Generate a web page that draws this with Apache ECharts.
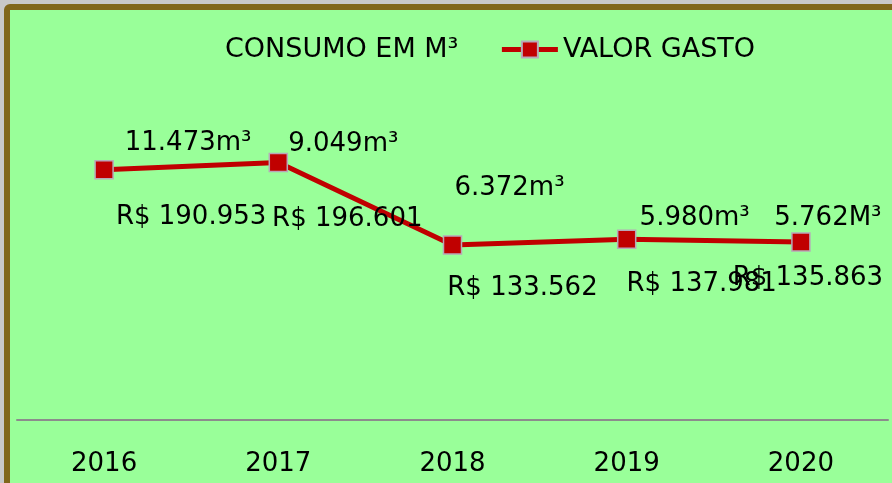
<!DOCTYPE html>
<html>
<head>
<meta charset="utf-8">
<script src="https://cdn.jsdelivr.net/npm/echarts@6/dist/echarts.min.js"></script>
<style>
    html, body { margin: 0; padding: 0; width: 892px; height: 483px; overflow: hidden; background: #c8c8c8; }
    .frame {
        position: absolute; left: 4px; top: 4px; width: 900px; height: 500px;
        border: 6px solid #80661a; border-radius: 6px; background: #99ff99;
    }
    #chart { position: absolute; left: 0; top: 0; width: 892px; height: 483px; }
</style>
</head>
<body>
<div class="frame"></div>
<div id="chart"></div>
<script>
// anos
const categorias = ['2016', '2017', '2018', '2019', '2020'];
// valor gasto em R$
const valorGasto = [190953, 196601, 133562, 137981, 135863];
// consumo em m³
const consumo = [11473, 9049, 6372, 5980, 5762];
const consumoTexto = ['11.473m³', '9.049m³', '6.372m³', '5.980m³', '5.762M³'];

// deslocamento manual dos rótulos (como no gráfico original)
const offsetValor = [[87, 47], [69, 57], [70, 43], [75, 45], [7, 36]];
const offsetConsumo = [[84, -26], [65, -78], [57, -93], [68, -71], [27, -76]];

const fmtReal = v => 'R$ ' + v.toLocaleString('pt-BR');

const chart = echarts.init(document.getElementById('chart'));

const option = {
    backgroundColor: 'transparent',
    textStyle: { fontFamily: 'DejaVu Sans' },
    legend: {
        left: 158,
        top: 31,
        itemGap: 41,
        itemWidth: 56,
        itemHeight: 20,
        textStyle: { fontSize: 27, color: '#000' },
        data: [
            { name: 'CONSUMO EM M³', itemStyle: { opacity: 0 }, lineStyle: { opacity: 0 } },
            { name: 'VALOR GASTO', lineStyle: { width: 5, color: '#c00000' } }
        ]
    },
    grid: { left: 17, right: 4, top: 92.5, bottom: 63 },
    xAxis: {
        type: 'category',
        data: categorias,
        axisLine: { lineStyle: { color: '#8c8c8c', width: 2 } },
        axisTick: { show: false },
        axisLabel: { fontSize: 26, color: '#000', margin: 31 }
    },
    yAxis: [
        { type: 'value', min: 0, max: 250000, show: false, splitLine: { show: false } },
        { type: 'value', min: 0, max: 15000, show: false, splitLine: { show: false } }
    ],
    series: [
        {
            name: 'CONSUMO EM M³',
            type: 'line',
            yAxisIndex: 1,
            symbol: 'circle',
            symbolSize: 1,
            showSymbol: true,
            lineStyle: { opacity: 0 },
            itemStyle: { color: 'rgba(0,0,0,0)', borderWidth: 0 },
            data: consumo.map((v, i) => ({
                value: v,
                label: {
                    show: true,
                    position: 'inside',
                    offset: offsetConsumo[i],
                    formatter: consumoTexto[i],
                    fontSize: 26,
                    color: '#000'
                }
            }))
        },
        {
            name: 'VALOR GASTO',
            type: 'line',
            symbol: 'rect',
            symbolSize: 18,
            lineStyle: { color: '#c00000', width: 5 },
            itemStyle: { color: '#c00000', borderColor: '#b8a8b8', borderWidth: 1.5 },
            data: valorGasto.map((v, i) => ({
                value: v,
                label: {
                    show: true,
                    position: 'inside',
                    offset: offsetValor[i],
                    formatter: fmtReal(v),
                    fontSize: 26,
                    color: '#000'
                }
            })),
            z: 3
        }
    ]
};

chart.setOption(option);
</script>
</body>
</html>
